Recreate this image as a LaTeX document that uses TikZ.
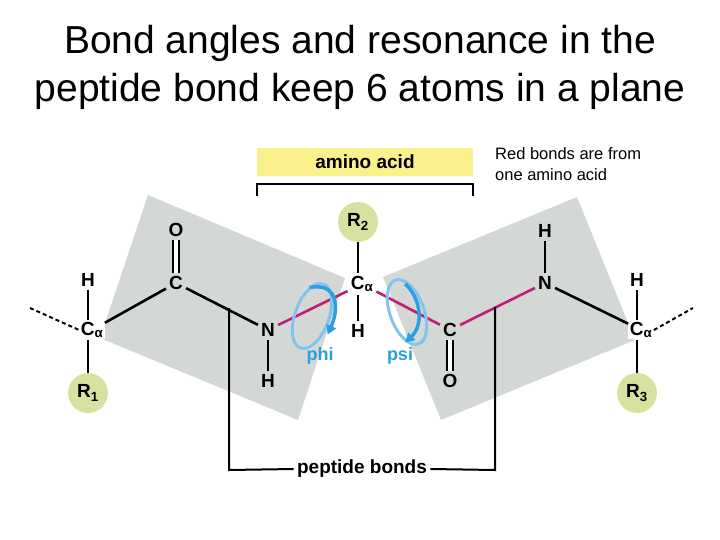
\documentclass[tikz,border=0pt]{standalone}
\usepackage{fontspec}
\setmainfont{Liberation Sans}
\usetikzlibrary{arrows.meta,calc}
\definecolor{plane}{RGB}{212,216,212}
\definecolor{rgrp}{RGB}{216,226,160}
\definecolor{mag}{RGB}{190,30,120}
\definecolor{sky}{RGB}{40,160,225}
\definecolor{lsky}{RGB}{130,195,240}
\definecolor{ybox}{RGB}{250,240,140}
\newcommand{\ca}{C\textsubscript{α}}
\begin{document}
\begin{tikzpicture}[x=1pt,y=-1pt,
  atom/.style={font=\bfseries\fontsize{19}{19}\selectfont,inner sep=3pt},
  rg/.style={circle,fill=rgrp,minimum size=40pt,inner sep=0pt,font=\bfseries\fontsize{19}{19}\selectfont},
  bond/.style={line width=2.6pt},
  rbond/.style={line width=2.6pt,draw=mag},
  brk/.style={line width=2pt},
  rot/.style={line width=3.5pt}]
\useasboundingbox (0,0) rectangle (720,540);
\node (t1) at (360,43) {\fontsize{39}{40}\selectfont Bond angles and resonance in the};
\node (t2) at (360,91) {\fontsize{39}{40}\selectfont peptide bond keep 6 atoms in a plane};
\node[anchor=north west,align=left,inner sep=0pt,font=\fontsize{16.5}{21}\selectfont] (note) at (495,147) {Red bonds are from\\one amino acid};
% planes
\fill[plane] (148,195) -- (345,278) -- (298,420) -- (100,338) -- cycle;
\fill[plane] (383,277) -- (577,197) -- (635,340) -- (441,420) -- cycle;
% amino acid label
\node[fill=ybox,minimum width=216pt,minimum height=28pt,font=\bfseries\fontsize{19}{19}\selectfont] (aa) at (365,162) {amino acid};
\draw[brk] (257,196) -- (257,184) -- (473,184) -- (473,196);
% atoms
\node[atom,fill=white,inner sep=1.5pt] (ca1) at (92,330) {\ca};
\node[atom] (h1) at (88,280) {H};
\node[rg] (r1) at (88,393) {R\textsubscript{1}};
\node[atom] (c1) at (176,283) {C};
\node[atom] (o1) at (176,230) {O};
\node[atom] (n1) at (268,330) {N};
\node[atom] (hn1) at (268,381) {H};
\node[atom] (ca2) at (362,284) {\ca};
\node[rg] (r2) at (358,222) {R\textsubscript{2}};
\node[atom] (h2) at (358,331) {H};
\node[atom] (c2) at (450,330) {C};
\node[atom] (o2) at (450,381) {O};
\node[atom] (n2) at (545,283) {N};
\node[atom] (hn2) at (545,231) {H};
\node[atom,fill=white,inner sep=1.5pt] (ca3) at (641,330) {\ca};
\node[atom] (h3) at (637,280) {H};
\node[rg] (r3) at (637,393) {R\textsubscript{3}};
\coordinate (dl) at (30,308);
\coordinate (dr) at (693,308);
% bonds
\draw[line width=2pt,dash pattern=on 4pt off 3pt] (dl) -- (ca1.west);
\draw[line width=2pt,dash pattern=on 4pt off 3pt] (ca3.east) -- (dr);
\draw[bond] (h1) -- (ca1.north -| h1);
\draw[bond] (ca1.south -| r1) -- (r1);
\draw[bond] (ca1) -- (c1);
\draw[double,double distance=4pt,line width=2.2pt] (c1) -- (o1);
\draw[bond] (c1) -- (n1);
\draw[bond] (n1) -- (hn1);
\draw[rbond] (n1) -- (ca2);
\draw[bond] (r2) -- (ca2.north -| r2);
\draw[bond] (ca2.south -| h2) -- (h2);
\draw[rbond] (ca2) -- (c2);
\draw[double,double distance=4pt,line width=2.2pt] (c2) -- (o2);
\draw[rbond] (c2) -- (n2);
\draw[bond] (n2) -- (hn2);
\draw[bond] (n2) -- (ca3);
\draw[bond] (h3) -- (ca3.north -| h3);
\draw[bond] (ca3.south -| r3) -- (r3);
% peptide bonds bracket
\node[font=\bfseries\fontsize{19}{19}\selectfont] (pb) at (362,469) {peptide bonds};
\draw[brk] (229,308) -- (229,470) -- (pb.west);
\draw[brk] (pb.east) -- (495,470) -- (495,307);
% rotations
\draw[lsky,line width=3pt,rotate around={-20:(312,316)}] (312,316) ellipse (17 and 34);
\draw[sky,rot,-{Triangle[length=9pt,width=10pt]},rotate around={-20:(312,316)}] (300,290) .. controls (325,275) and (335,300) .. (333,328);
\node[sky,font=\bfseries\fontsize{18}{18}\selectfont] (phi) at (320,356) {phi};
\draw[lsky,line width=3pt,rotate around={20:(407,312)}] (407,312) ellipse (17 and 34);
\draw[sky,rot,-{Triangle[length=9pt,width=10pt]},rotate around={20:(407,312)}] (415,285) .. controls (425,305) and (418,330) .. (395,340);
\node[sky,font=\bfseries\fontsize{18}{18}\selectfont] (psi) at (400,356) {psi};
\end{tikzpicture}
\end{document}
